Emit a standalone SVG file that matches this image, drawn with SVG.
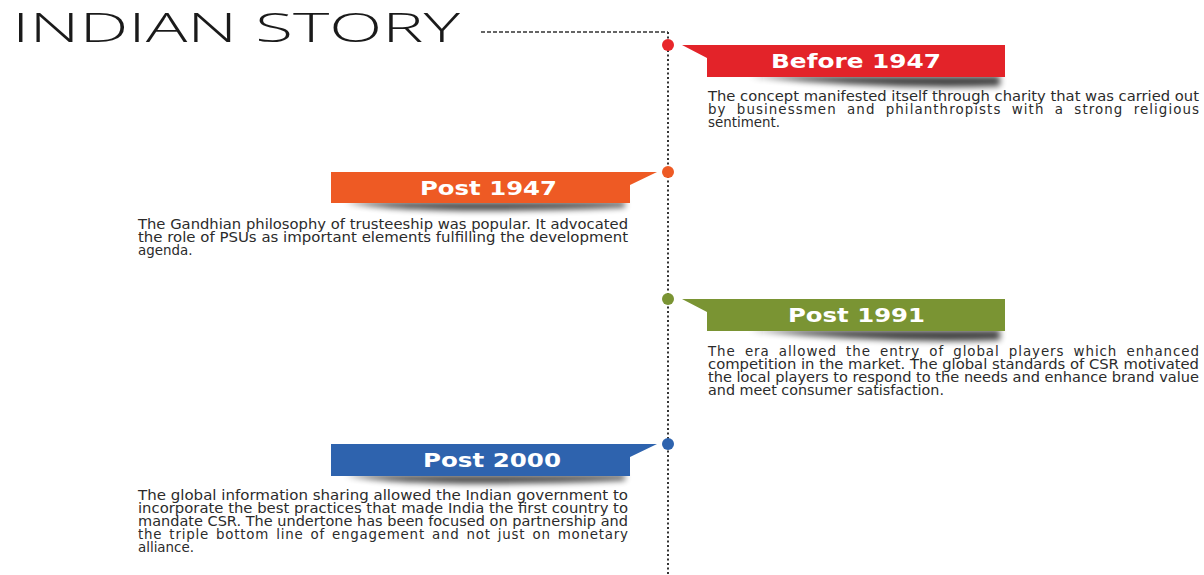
<svg xmlns="http://www.w3.org/2000/svg" width="1204" height="575" viewBox="0 0 1204 575">
<defs>
<style>
.title{font-family:"Open Sans","Liberation Sans",sans-serif;font-weight:300;font-size:41px;fill:#1a1a1a}
.ban{font-family:"DejaVu Sans","Liberation Sans",sans-serif;font-weight:bold;font-size:20px;fill:#ffffff}
.desc{font-family:"DejaVu Sans","Liberation Sans",sans-serif;font-size:13.4px;fill:#2b2b2b}
.shadow{fill:#000;opacity:0.75;filter:url(#blur)}
</style>
<filter id="blur" x="-20%" y="-200%" width="140%" height="500%"><feGaussianBlur stdDeviation="3"/></filter>
</defs>
<rect width="1204" height="575" fill="#ffffff"/>
<text class="title" x="12" y="42" textLength="448" lengthAdjust="spacingAndGlyphs">INDIAN STORY</text>
<g id="connectors">
<path d="M481 32 H668" stroke="#333" stroke-width="1.3" stroke-dasharray="4 2" fill="none"/>
<path d="M668 32 V575" stroke="#333" stroke-width="2" stroke-dasharray="2 2.5" fill="none"/>
</g>
<g id="before1947">
<path class="shadow" d="M750 76 Q880 90 1000 86 L1000 76 Z"/>
<polygon points="682,45 1005,45 1005,77 707,77 707,58" fill="#e32329"/>
<circle cx="668" cy="45" r="6" fill="#e8262a"/>
<text class="ban" x="771" y="68" textLength="170" lengthAdjust="spacingAndGlyphs">Before 1947</text>
<text class="desc" x="708" y="101" textLength="491" lengthAdjust="spacingAndGlyphs">The concept manifested itself through charity that was carried out</text>
<text class="desc" x="708" y="114" textLength="491" lengthAdjust="spacing" word-spacing="5">by businessmen and philanthropists with a strong religious</text>
<text class="desc" x="708" y="127">sentiment.</text>
</g>
<g id="post1947">
<path class="shadow" d="M345 202 Q420 216 625 207 L625 202 Z"/>
<polygon points="657,172 331,172 331,203 630,203 630,185" fill="#ee5a24"/>
<circle cx="668" cy="172" r="6" fill="#ee5a24"/>
<text class="ban" x="420" y="195" textLength="137" lengthAdjust="spacingAndGlyphs">Post 1947</text>
<text class="desc" x="138" y="229" textLength="490" lengthAdjust="spacingAndGlyphs">The Gandhian philosophy of trusteeship was popular. It advocated</text>
<text class="desc" x="138" y="242" textLength="490" lengthAdjust="spacingAndGlyphs">the role of PSUs as important elements fulfilling the development</text>
<text class="desc" x="138" y="255">agenda.</text>
</g>
<g id="post1991">
<path class="shadow" d="M750 330 Q880 344 1000 340 L1000 330 Z"/>
<polygon points="682,299 1005,299 1005,331 707,331 707,312" fill="#7a9433"/>
<circle cx="668" cy="299" r="6" fill="#7a9433"/>
<text class="ban" x="788" y="322" textLength="137" lengthAdjust="spacingAndGlyphs">Post 1991</text>
<text class="desc" x="708" y="356" textLength="491" lengthAdjust="spacing" word-spacing="4">The era allowed the entry of global players which enhanced</text>
<text class="desc" x="708" y="369" textLength="491" lengthAdjust="spacingAndGlyphs">competition in the market. The global standards of CSR motivated</text>
<text class="desc" x="708" y="382" textLength="491" lengthAdjust="spacingAndGlyphs">the local players to respond to the needs and enhance brand value</text>
<text class="desc" x="708" y="395" textLength="236" lengthAdjust="spacingAndGlyphs">and meet consumer satisfaction.</text>
</g>
<g id="post2000">
<path class="shadow" d="M345 475 Q420 489 625 480 L625 475 Z"/>
<polygon points="657,444 331,444 331,476 630,476 630,457" fill="#2e63ae"/>
<circle cx="668" cy="444" r="6" fill="#2e63ae"/>
<text class="ban" x="423" y="467" textLength="138" lengthAdjust="spacingAndGlyphs">Post 2000</text>
<text class="desc" x="138" y="500" textLength="490" lengthAdjust="spacingAndGlyphs">The global information sharing allowed the Indian government to</text>
<text class="desc" x="138" y="513" textLength="490" lengthAdjust="spacingAndGlyphs">incorporate the best practices that made India the first country to</text>
<text class="desc" x="138" y="526" textLength="490" lengthAdjust="spacingAndGlyphs">mandate CSR. The undertone has been focused on partnership and</text>
<text class="desc" x="138" y="539" textLength="490" lengthAdjust="spacing" word-spacing="2">the triple bottom line of engagement and not just on monetary</text>
<text class="desc" x="138" y="552">alliance.</text>
</g>
</svg>
